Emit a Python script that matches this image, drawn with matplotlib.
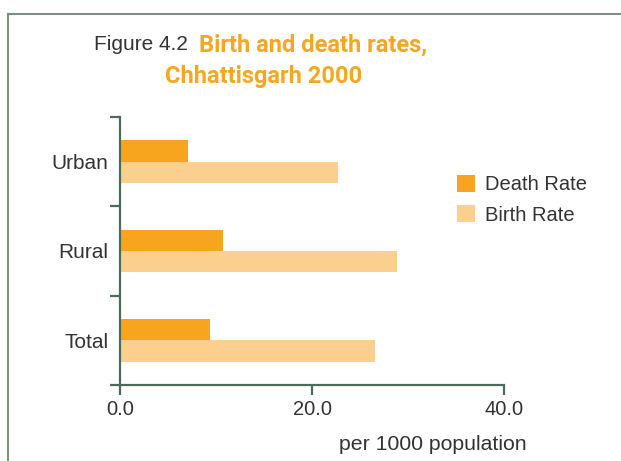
import matplotlib
matplotlib.use("Agg")
import matplotlib.pyplot as plt
from matplotlib.lines import Line2D
from matplotlib.patches import Patch

categories = ["Total", "Rural", "Urban"]
death_rate = [9.4, 10.7, 7.1]
birth_rate = [26.6, 28.9, 22.7]
x_ticks = [0, 20, 40]
x_tick_labels = ["0.0", "20.0", "40.0"]

DEATH = "#F7A51E"
BIRTH = "#FBCF8E"
AXC = "#4B6B5B"
TXT = "#333333"
FONT = ["Liberation Sans", "DejaVu Sans"]
BOLD = ["Roboto", "DejaVu Sans"]
plt.rcParams["font.family"] = FONT

W, H = 621, 461
fig = plt.figure(figsize=(W / 100, H / 100), dpi=100)
ax = fig.add_axes([120 / W, (H - 385) / H, (504 - 120) / W, (385 - 117) / H])

y = list(range(len(categories)))
bh = 0.24
ax.barh([v + bh / 2 for v in y], death_rate, height=bh, color=DEATH, label="Death Rate")
ax.barh([v - bh / 2 for v in y], birth_rate, height=bh, color=BIRTH, label="Birth Rate")

ax.set_xlim(0, 40)
ax.set_ylim(-0.5, 2.5)
for s in ["top", "right"]:
    ax.spines[s].set_visible(False)
for s in ["left", "bottom"]:
    ax.spines[s].set_color(AXC)
    ax.spines[s].set_linewidth(1.6)

ax.set_xticks(x_ticks)
ax.set_xticklabels(x_tick_labels)
ax.tick_params(axis="x", length=7, width=1.6, color=AXC, labelsize=14.5, labelcolor=TXT, pad=4)

ax.set_yticks(y)
ax.set_yticklabels(categories)
ax.tick_params(axis="y", which="major", length=0, labelsize=15, labelcolor=TXT, pad=8.5)
ax.set_yticks([-0.5, 0.5, 1.5, 2.5], minor=True)
ax.tick_params(axis="y", which="minor", length=7, width=1.6, color=AXC)

fig.text(527 / W, 1 - 444 / H, "per 1000 population", ha="right", va="center",
         fontsize=15.3, color=TXT)

# title
fig.text(188 / W, 1 - 45 / H, "Figure 4.2", ha="right", va="center", fontsize=15, color=TXT)
fig.text(199 / W, 1 - 45 / H, "Birth and death rates,", ha="left", va="center",
         fontsize=17, fontweight="bold", color="#F5A623", family=BOLD)
fig.text(264 / W, 1 - 77 / H, "Chhattisgarh 2000", ha="center", va="center",
         fontsize=17, fontweight="bold", color="#F5A623", family=BOLD)

handles = [Patch(facecolor=DEATH, label="Death Rate"), Patch(facecolor=BIRTH, label="Birth Rate")]
fig.legend(handles=handles, loc="upper left", bbox_to_anchor=(457 / W, 1 - 175 / H),
           frameon=False, fontsize=14.5, handlelength=0.9, handleheight=0.9,
           handletextpad=0.5, labelspacing=0.55, borderpad=0, borderaxespad=0,
           labelcolor=TXT)

# frame
bc = "#7D8F80"
fig.add_artist(Line2D([8 / W, 1], [1 - 14 / H, 1 - 14 / H], color=bc, lw=1.5))
fig.add_artist(Line2D([8 / W, 8 / W], [0, 1 - 14 / H], color=bc, lw=1.5))

fig.savefig("out.png", dpi=100)
